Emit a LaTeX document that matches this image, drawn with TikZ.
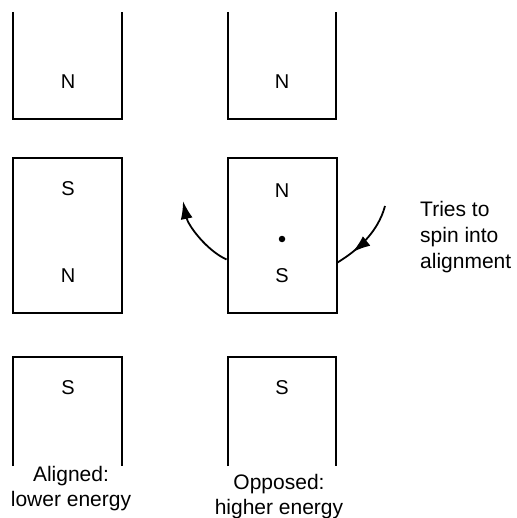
\documentclass[tikz,border=0pt]{standalone}
\usepackage{fontspec}
\setsansfont{Liberation Sans}
\usetikzlibrary{arrows.meta, positioning, calc, decorations.markings}
\tikzset{
  font=\sffamily,
  magnet/.style={draw=black, line width=2pt, minimum width=109pt, minimum height=155pt,
    inner sep=0pt},
  magnetline/.style={draw=black, line width=2pt},
  pole/.style={font=\sffamily\fontsize{20}{24}\selectfont, inner sep=0pt},
  caption/.style={align=center, font=\sffamily\fontsize{21}{25}\selectfont, inner sep=0pt},
  note/.style={align=left, font=\sffamily\fontsize{21}{26}\selectfont, inner sep=0pt},
  pivot/.style={circle, fill=black, minimum size=6.5pt, inner sep=0pt},
  turn/.style={line width=1.8pt, -{Latex[length=18pt, width=12pt]}},
  midturn/.style={line width=1.8pt, postaction={decorate},
    decoration={markings, mark=at position 0.76 with {\arrow{Latex[length=18pt, width=12pt]}}}},
}

\begin{document}
\begin{tikzpicture}[x=1pt, y=-1pt]
  \useasboundingbox (0,0) rectangle (516,518);

  % ----------------------------------------------------------------
  % Top row: lower ends of the outer magnets
  % ----------------------------------------------------------------
  \draw[magnetline] (13,12) |- (122,119) -- (122,12);
  \draw[magnetline] (228,12) |- (336,119) -- (336,12);
  \node[pole] (topL) at (68,82) {N};
  \node[pole] (topR) at (282,82) {N};

  % ----------------------------------------------------------------
  % Middle row: the small magnets between them
  % ----------------------------------------------------------------
  \node[magnet] (mL) at (67.5,235.5) {};
  \node[magnet] (mR) at (282,235.5) {};
  \node[pole] (mLs) at (68,189) {S};
  \node[pole] (mLn) at (68,276) {N};
  \node[pole] (mRn) at (282,191) {N};
  \node[pivot] (dot) at (282,239) {};
  \node[pole] (mRs) at (282,276) {S};

  % ----------------------------------------------------------------
  % Bottom row: upper ends of the outer magnets
  % ----------------------------------------------------------------
  \draw[magnetline] (13,466) |- (122,357) -- (122,466);
  \draw[magnetline] (228,466) |- (336,357) -- (336,466);
  \node[pole] (botL) at (68,388) {S};
  \node[pole] (botR) at (282,388) {S};

  % ----------------------------------------------------------------
  % Turning arrows and texts
  % ----------------------------------------------------------------
  \coordinate (ltip) at (183,201);
  \coordinate (rtop) at (385,206);
  \draw[turn] ($(mR.west)+(0,24)$) .. controls (206,250) and (188,225) .. (ltip);
  \draw[midturn] (rtop) .. controls (378,232) and (358,250) .. ($(mR.east)+(0,27)$);

  \node[note, anchor=north west] (tries) at (420,201)
    {Tries to\\ spin into\\ alignment};

  \node[caption, anchor=north] (alig) at (71,466) {Aligned:\\ lower energy};
  \node[caption, anchor=north] (oppo) at (279,474) {Opposed:\\ higher energy};

\end{tikzpicture}
\end{document}
